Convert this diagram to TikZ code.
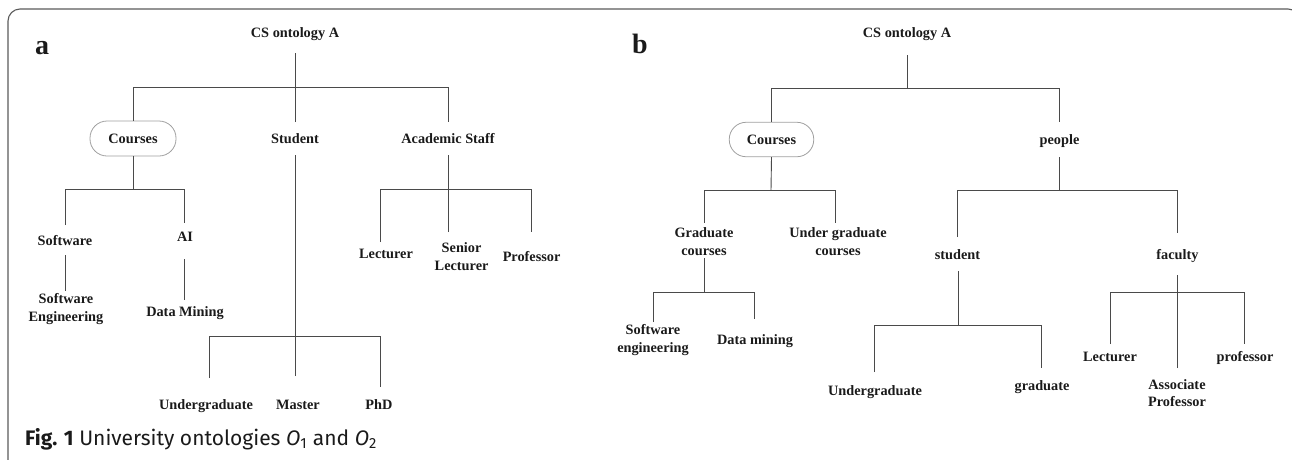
\documentclass[tikz,border=0pt]{standalone}
\usepackage{fontspec}
\setmainfont{Liberation Serif}
\newfontfamily\capfont{Fira Sans}
\usetikzlibrary{calc}
\definecolor{linecol}{HTML}{4A4A4A}
\definecolor{framecol}{HTML}{5A5A5A}
\definecolor{boxcol}{HTML}{A0A0A0}
\definecolor{txtcol}{HTML}{1A1A1A}
\newcommand{\tfont}{\fontsize{14.3}{17.5}\selectfont\bfseries}
\tikzset{
  lbl/.style={font=\tfont, text=txtcol, inner sep=0pt, anchor=base, align=center},
  pill/.style={draw=boxcol, line width=0.8pt, rounded corners=17pt, minimum width=86pt, minimum height=35pt, inner sep=0pt, font=\tfont, text=txtcol},
  conn/.style={draw=linecol, line width=0.9pt},
  panel/.style={font=\fontsize{28}{30}\selectfont\bfseries, text=txtcol, inner sep=0pt, anchor=base}
}
\begin{document}
\begin{tikzpicture}[x=1pt,y=-1pt]
\useasboundingbox (0,0) rectangle (1292,459);
\begin{scope}
\clip (0,0) rectangle (1292,459);
\draw[framecol, line width=1.1pt, rounded corners=12pt] (8,480) -- (8,9) -- (1300,9) -- (1300,480);
\end{scope}

% ---------------- panel a ----------------
\node[panel] (la) at (42,54) {a};
\node[lbl] (aroot) at (295,37) {CS ontology A};
\coordinate (aroot-s) at (295,53);
\coordinate (aroot-j) at (295,87);
\node[pill] (ac) at (133,138.5) {Courses};
\node[lbl] (ast) at (295,143) {Student};
\coordinate (ast-n) at (295,122);
\node[lbl] (aas) at (448,143) {Academic Staff};
\coordinate (aas-n) at (448,122);
\draw[conn] (aroot-s) -- (aroot-j);
\draw[conn] (ac.north) -- (ac.north |- aroot-j) -- (aas-n |- aroot-j) -- (aas-n);
\draw[conn] (ast-n) -- (ast-n |- aroot-j);

% Courses subtree
\coordinate (ac-j) at (133,189);
\node[lbl] (asw) at (65,245) {Software};
\coordinate (asw-n) at (65,225);
\node[lbl] (aai) at (185,241) {AI};
\coordinate (aai-n) at (184.5,223);
\draw[conn] (ac.south) -- (ac-j);
\draw[conn] (asw-n) -- (asw-n |- ac-j) -- (aai-n |- ac-j) -- (aai-n);
\coordinate (asw-s) at (65,255);
\node[lbl] (ase) at (66,321) {Software\\Engineering};
\coordinate (ase-n) at (65,291);
\draw[conn] (asw-s) -- (ase-n);
\coordinate (aai-s) at (184.5,259);
\node[lbl] (adm) at (185,316.7) {Data Mining};
\coordinate (adm-n) at (184.5,300);
\draw[conn] (aai-s) -- (adm-n);

% Student subtree
\coordinate (ast-s) at (295,155);
\coordinate (ast-j) at (295,336);
\node[lbl] (aug) at (206,409) {Undergraduate};
\coordinate (aug-n) at (209,378);
\node[lbl] (ams) at (298,409) {Master};
\coordinate (ams-n) at (295,376);
\node[lbl] (aphd) at (379,409) {PhD};
\coordinate (aphd-n) at (380,387);
\draw[conn] (ast-s) -- (ast-j);
\draw[conn] (aug-n) -- (aug-n |- ast-j) -- (aphd-n |- ast-j) -- (aphd-n);
\draw[conn] (ams-n) -- (ams-n |- ast-j);

% Academic staff subtree
\coordinate (aas-s) at (448,155);
\coordinate (aas-j) at (448,189);
\node[lbl] (alec) at (386,258) {Lecturer};
\coordinate (alec-n) at (380,242);
\node[lbl] (asl) at (461.6,270) {Senior\\Lecturer};
\coordinate (asl-n) at (448,232);
\node[lbl] (apr) at (531.6,261) {Professor};
\coordinate (apr-n) at (531,232);
\draw[conn] (aas-s) -- (aas-j);
\draw[conn] (alec-n) -- (alec-n |- aas-j) -- (apr-n |- aas-j) -- (apr-n);
\draw[conn] (asl-n) -- (asl-n |- aas-j);

% ---------------- panel b ----------------
\node[panel] (lb) at (640,53) {b};
\node[lbl] (broot) at (907,37) {CS ontology A};
\coordinate (broot-s) at (907,55);
\coordinate (broot-j) at (907,88);
\node[pill, minimum width=84.5pt, minimum height=34.5pt] (bc) at (771.5,139.5) {Courses};
\node[lbl] (bp) at (1059.5,144) {people};
\coordinate (bp-n) at (1059,122);
\draw[conn] (broot-s) -- (broot-j);
\draw[conn] (bc.north) -- (bc.north |- broot-j) -- (bp-n |- broot-j) -- (bp-n);

% Courses subtree
\coordinate (bc-j) at (771,190);
\node[lbl] (bgc) at (704,255) {Graduate\\courses};
\coordinate (bgc-n) at (704,223);
\node[lbl] (buc) at (838,255) {Under graduate\\courses};
\coordinate (buc-n) at (835,223);
\draw[conn] (bc.south) -- (bc-j);
\draw[conn] (bgc-n) -- (bgc-n |- bc-j) -- (buc-n |- bc-j) -- (buc-n);
\coordinate (bgc-s) at (704,258);
\coordinate (bgc-j) at (704,292);
\node[lbl] (bse) at (653,352) {Software\\engineering};
\coordinate (bse-n) at (653,322);
\node[lbl] (bdm) at (755,344) {Data mining};
\coordinate (bdm-n) at (754.3,318.5);
\draw[conn] (bgc-s) -- (bgc-j);
\draw[conn] (bse-n) -- (bse-n |- bgc-j) -- (bdm-n |- bgc-j) -- (bdm-n);

% people subtree
\coordinate (bp-s) at (1059,157);
\coordinate (bp-j) at (1059,190);
\node[lbl] (bst) at (957.5,259) {student};
\coordinate (bst-n) at (957,237);
\node[lbl] (bfa) at (1177.5,259) {faculty};
\coordinate (bfa-n) at (1177,233);
\draw[conn] (bp-s) -- (bp-j);
\draw[conn] (bst-n) -- (bst-n |- bp-j) -- (bfa-n |- bp-j) -- (bfa-n);

% student subtree
\coordinate (bst-s) at (958,271);
\coordinate (bst-j) at (958,325);
\node[lbl] (bug) at (875,395) {Undergraduate};
\coordinate (bug-n) at (874.5,372);
\node[lbl] (bgr) at (1042,390.7) {graduate};
\coordinate (bgr-n) at (1041,368);
\draw[conn] (bst-s) -- (bst-j);
\draw[conn] (bug-n) -- (bug-n |- bst-j) -- (bgr-n |- bst-j) -- (bgr-n);

% faculty subtree
\coordinate (bfa-s) at (1177,275);
\coordinate (bfa-j) at (1177,292);
\node[lbl] (blec) at (1110,361) {Lecturer};
\coordinate (blec-n) at (1110,344);
\node[lbl] (bass) at (1177,406.5) {Associate\\Professor};
\coordinate (bass-n) at (1177,368);
\node[lbl] (bpr) at (1245,361) {professor};
\coordinate (bpr-n) at (1244,344);
\draw[conn] (bfa-s) -- (bfa-j);
\draw[conn] (blec-n) -- (blec-n |- bfa-j) -- (bpr-n |- bfa-j) -- (bpr-n);
\draw[conn] (bass-n) -- (bass-n |- bfa-j);

% caption
\node[font=\capfont\fontsize{21}{24}\selectfont, text=txtcol, inner sep=0pt, anchor=base west] (cap) at (25,445)
  {\textbf{Fig. 1} University ontologies \textit{O}\textsubscript{1} and \textit{O}\textsubscript{2}};
\end{tikzpicture}
\end{document}
